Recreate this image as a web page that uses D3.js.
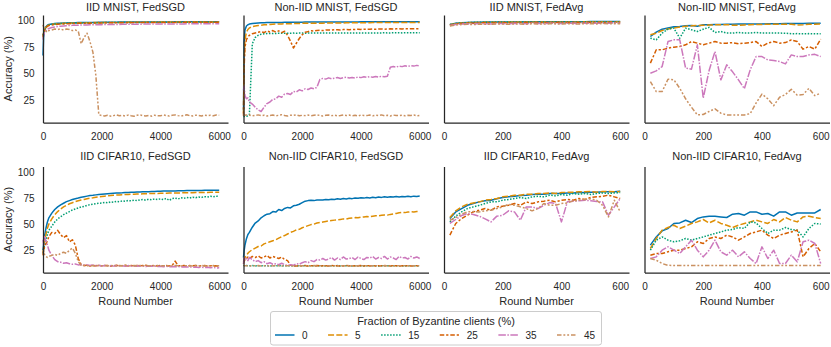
<!DOCTYPE html>
<html>
<head>
<meta charset="utf-8">
<script src="https://cdn.jsdelivr.net/npm/d3@7"></script>
<style>
  body { margin: 0; background: #fff; }
  svg { display: block; font-family: "Liberation Sans", Arial, sans-serif; }
</style>
</head>
<body>
<div id="chart"></div>
<script>
// ---- data ----
var fractions = ["0", "5", "15", "25", "35", "45"];
var colours = ["#0173b2", "#de8f05", "#029e73", "#d55e00", "#cc78bc", "#ca9161"];
var dashes = ["none", "6,2.25", "1.5,1.5", "4.5,1.9,2.25,1.9", "7.5,1.5,1.5,1.5", "4.5,1.9,1.9,1.9,1.9,1.9"];

var sgdTicks = [0, 2000, 4000, 6000];
var avgTicks = [0, 200, 400, 600];
var accTicks = [25, 50, 75, 100];

var sgdRounds = [0, 20, 50, 100, 150, 200, 300, 400, 500, 600,
  700, 800, 900, 1000, 1100, 1200, 1300, 1400, 1500, 1600,
  1700, 1800, 1900, 2000, 2100, 2200, 2300, 2400, 2500, 2600,
  2700, 2800, 2900, 3000, 3100, 3200, 3300, 3400, 3500, 3600,
  3700, 3800, 3900, 4000, 4100, 4200, 4300, 4400, 4500, 4600,
  4700, 4800, 4900, 5000, 5100, 5200, 5300, 5400, 5500, 5600,
  5700, 5800, 5900, 6000];
var avgRounds = [20, 40, 60, 80, 100, 120, 140, 160, 180, 200,
  220, 240, 260, 280, 300, 320, 340, 360, 380, 400,
  420, 440, 460, 480, 500, 520, 540, 560, 580, 600];

// IID MNIST, FedSGD  (one array per Byzantine fraction)
var iidMnistSgd = [
  [67, 84, 90, 94, 95.5, 96.3, 96.8, 97.1, 97.3, 97.5,
   97.6, 97.7, 97.8, 97.8, 97.9, 98.0, 98.0, 98.1, 98.1, 98.2,
   98.2, 98.2, 98.3, 98.3, 98.3, 98.4, 98.4, 98.4, 98.4, 98.5,
   98.5, 98.5, 98.5, 98.5, 98.6, 98.6, 98.6, 98.6, 98.6, 98.6,
   98.7, 98.7, 98.7, 98.7, 98.7, 98.7, 98.7, 98.7, 98.8, 98.8,
   98.8, 98.8, 98.8, 98.8, 98.8, 98.8, 98.8, 98.8, 98.9, 98.9,
   98.9, 98.9, 98.9, 98.9],
  [85, 88, 91, 93.5, 95, 95.8, 96.4, 96.8, 97.0, 97.2,
   97.3, 97.5, 97.5, 97.6, 97.7, 97.7, 97.8, 97.8, 97.9, 97.9,
   98.0, 98.0, 98.0, 98.1, 98.1, 98.1, 98.1, 98.2, 98.2, 98.2,
   98.2, 98.3, 98.3, 98.3, 98.3, 98.3, 98.4, 98.4, 98.4, 98.4,
   98.4, 98.4, 98.5, 98.5, 98.5, 98.5, 98.5, 98.5, 98.5, 98.5,
   98.6, 98.6, 98.6, 98.6, 98.6, 98.6, 98.6, 98.6, 98.6, 98.6,
   98.7, 98.7, 98.7, 98.7],
  [86, 89, 91.5, 93.8, 95, 95.7, 96.2, 96.6, 96.9, 97.1,
   97.2, 97.3, 97.4, 97.5, 97.5, 97.6, 97.7, 97.7, 97.8, 97.8,
   97.8, 97.9, 97.9, 97.9, 98.0, 98.0, 98.0, 98.0, 98.1, 98.1,
   98.1, 98.1, 98.1, 98.2, 98.2, 98.2, 98.2, 98.2, 98.2, 98.3,
   98.3, 98.3, 98.3, 98.3, 98.3, 98.3, 98.4, 98.4, 98.4, 98.4,
   98.4, 98.4, 98.4, 98.4, 98.4, 98.5, 98.5, 98.5, 98.5, 98.5,
   98.5, 98.5, 98.5, 98.5],
  [84, 88, 90.5, 93, 94.5, 95.2, 95.8, 96.2, 96.4, 96.7,
   96.8, 97.0, 97.0, 97.2, 97.2, 97.3, 97.4, 97.4, 97.5, 97.5,
   97.6, 97.6, 97.7, 97.6, 97.7, 97.8, 97.8, 97.8, 97.9, 97.8,
   97.9, 97.9, 98.0, 97.9, 98.0, 98.0, 98.0, 98.1, 98.0, 98.1,
   98.1, 98.1, 98.1, 98.2, 98.1, 98.2, 98.2, 98.2, 98.2, 98.2,
   98.3, 98.2, 98.3, 98.3, 98.3, 98.3, 98.3, 98.3, 98.4, 98.3,
   98.4, 98.4, 98.4, 98.4],
  [82, 86, 88.5, 90.5, 91.8, 92.5, 93.3, 93.9, 94.3, 94.6,
   94.9, 95.1, 95.2, 95.4, 95.5, 95.6, 95.7, 95.8, 95.8, 95.9,
   96.0, 96.0, 96.1, 96.1, 96.2, 96.2, 96.2, 96.3, 96.3, 96.3,
   96.4, 96.4, 96.4, 96.5, 96.5, 96.5, 96.5, 96.6, 96.6, 96.6,
   96.6, 96.7, 96.7, 96.7, 96.7, 96.7, 96.8, 96.8, 96.8, 96.8,
   96.8, 96.8, 96.9, 96.9, 96.9, 96.9, 96.9, 96.9, 97.0, 97.0,
   97.0, 97.0, 97.0, 97.0],
  [96, 94, 92, 90, 89, 90.5, 91, 92, 91.5, 92,
   91, 92, 91.5, 90.5, 91, 90, 78, 84, 88, 80,
   70, 48, 11, 10.2, 9.8, 10.5, 9.6, 10.1, 10.8, 9.9,
   10.3, 9.7, 10.6, 10.0, 9.5, 10.4, 10.9, 10.1, 9.8, 10.3,
   9.6, 10.5, 10.0, 9.9, 10.7, 10.2, 9.7, 10.4, 10.8, 10.1,
   9.6, 10.3, 10.9, 10.0, 9.8, 10.5, 10.2, 9.7, 10.6, 10.1,
   10.4, 9.9, 10.7, 10.5]
];

// Non-IID MNIST, FedSGD
var nonIidMnistSgd = [
  [15, 80, 91, 94.8, 96.0, 96.6, 97.1, 97.4, 97.6, 97.8,
   97.9, 98.0, 98.0, 98.1, 98.1, 98.2, 98.2, 98.3, 98.3, 98.3,
   98.4, 98.4, 98.4, 98.4, 98.5, 98.5, 98.5, 98.5, 98.5, 98.6,
   98.6, 98.6, 98.6, 98.6, 98.6, 98.7, 98.7, 98.7, 98.7, 98.7,
   98.7, 98.7, 98.7, 98.8, 98.8, 98.8, 98.8, 98.8, 98.8, 98.8,
   98.8, 98.8, 98.8, 98.9, 98.9, 98.9, 98.9, 98.9, 98.9, 98.9,
   98.9, 98.9, 98.9, 98.9],
  [12, 60, 82, 89, 91.5, 93, 94.2, 94.8, 95.3, 95.6,
   95.9, 96.1, 96.3, 96.5, 96.6, 96.7, 96.8, 96.9, 97.0, 97.0,
   97.1, 97.2, 97.2, 97.3, 97.3, 97.4, 97.4, 97.4, 97.5, 97.5,
   97.5, 97.6, 97.6, 97.6, 97.7, 97.7, 97.7, 97.7, 97.8, 97.8,
   97.8, 97.8, 97.9, 97.9, 97.9, 97.9, 97.9, 98.0, 98.0, 98.0,
   98.0, 98.0, 98.0, 98.1, 98.1, 98.1, 98.1, 98.1, 98.1, 98.1,
   98.2, 98.2, 98.2, 98.2],
  [9.5, 9.2, 9.4, 9.6, 9.8, 11, 78, 84, 86, 87,
   87.4, 87.6, 87.7, 87.8, 87.8, 87.9, 87.9, 88.0, 88.0, 88.0,
   88.1, 88.0, 88.1, 88.1, 88.0, 88.1, 88.1, 88.1, 88.2, 88.1,
   88.1, 88.2, 88.2, 88.1, 88.2, 88.2, 88.2, 88.2, 88.2, 88.3,
   88.2, 88.2, 88.3, 88.3, 88.2, 88.3, 88.3, 88.3, 88.3, 88.3,
   88.3, 88.4, 88.3, 88.3, 88.4, 88.4, 88.4, 88.3, 88.4, 88.4,
   88.4, 88.4, 88.4, 88.4],
  [10, 55, 75, 82, 84.5, 86, 87.5, 88.2, 88.8, 89.5,
   88.6, 90.1, 89.2, 90.5, 89.0, 90.2, 88.5, 89.8, 86.0, 80.5,
   74.0, 78.5, 83.0, 86.5, 88.8, 89.5, 90.2, 90.0, 90.6, 90.8,
   90.5, 91.0, 91.1, 90.9, 91.2, 91.3, 91.1, 91.4, 91.5, 91.3,
   91.6, 91.5, 91.7, 91.6, 91.8, 91.7, 91.8, 91.9, 91.7, 91.9,
   92.0, 91.8, 92.0, 92.1, 91.9, 92.1, 92.2, 92.0, 92.2, 92.1,
   92.3, 92.2, 92.3, 92.3],
  [34, 38, 29, 26, 27, 23, 21, 18, 15.5, 14,
   18, 21.5, 23, 25.5, 26, 28.5, 27.5, 30.5, 31, 30,
   33, 32.5, 34.5, 33.5, 35.5, 34.8, 36.2, 35.4, 36.8, 44.2,
   45.3, 44.6, 45.8, 44.9, 45.5, 46.1, 45.2, 45.9, 46.4, 45.6,
   46.2, 45.7, 46.6, 46.0, 46.8, 46.3, 46.9, 46.4, 47.1, 46.6,
   47.3, 46.8, 47.4, 55.8, 56.5, 56.0, 56.9, 56.4, 57.2, 56.6,
   57.4, 56.9, 57.6, 57.1],
  [12, 11, 10.5, 10.8, 10.2, 10.6, 9.9, 10.4, 10.8, 10.1,
   10.5, 9.8, 10.3, 10.7, 10.0, 10.4, 10.9, 10.2, 9.7, 10.5,
   10.3, 10.8, 9.9, 10.4, 10.1, 10.6, 10.0, 10.5, 10.9, 10.2,
   9.8, 10.4, 10.7, 10.1, 10.5, 9.9, 10.3, 10.8, 10.2, 10.6,
   10.0, 10.4, 9.8, 10.7, 10.3, 10.1, 10.6, 9.9, 10.5, 10.2,
   10.8, 10.0, 10.4, 9.7, 10.6, 10.3, 10.1, 10.5, 9.9, 10.4,
   10.2, 10.7, 10.0, 10.3]
];

// IID MNIST, FedAvg
var iidMnistAvg = [
  [96.2, 97.3, 97.8, 98.1, 98.3, 98.4, 98.5, 98.5, 98.6, 98.6, 98.7, 98.7, 98.7, 98.8, 98.8,
   98.8, 98.8, 98.8, 98.9, 98.9, 98.9, 98.9, 98.9, 98.9, 99.0, 99.0, 99.0, 99.0, 99.0, 99.0],
  [96.0, 97.1, 97.6, 97.9, 98.1, 98.2, 98.3, 98.3, 98.4, 98.4, 98.5, 98.5, 98.5, 98.6, 98.6,
   98.6, 98.6, 98.7, 98.7, 98.7, 98.7, 98.7, 98.7, 98.8, 98.8, 98.8, 98.8, 98.8, 98.8, 98.8],
  [96.1, 97.2, 97.7, 98.0, 98.2, 98.3, 98.4, 98.4, 98.5, 98.5, 98.6, 98.6, 98.6, 98.7, 98.7,
   98.7, 98.7, 98.7, 98.8, 98.8, 98.8, 98.8, 98.8, 98.8, 98.9, 98.9, 98.9, 98.9, 98.9, 98.9],
  [95.6, 96.8, 97.2, 97.6, 97.5, 97.8, 97.9, 97.7, 98.0, 98.0, 97.9, 98.1, 98.0, 98.1, 98.2,
   98.0, 98.2, 98.1, 98.2, 98.3, 98.1, 98.3, 98.2, 98.3, 98.3, 98.2, 98.4, 98.3, 98.4, 98.3],
  [95.2, 96.3, 96.7, 96.9, 96.6, 97.1, 97.0, 96.8, 97.2, 97.1, 96.9, 97.3, 97.2, 97.0, 97.4,
   97.2, 97.1, 97.4, 97.3, 97.2, 97.5, 97.3, 97.2, 97.5, 97.4, 97.3, 97.5, 97.4, 97.6, 97.5],
  [94.8, 95.8, 96.2, 96.4, 96.1, 96.6, 96.5, 96.3, 96.7, 96.6, 96.4, 96.8, 96.7, 96.5, 96.9,
   96.7, 96.6, 96.9, 96.8, 96.6, 97.0, 96.8, 96.7, 97.0, 96.9, 96.8, 97.1, 96.9, 97.0, 96.9]
];

// Non-IID MNIST, FedAvg
var nonIidMnistAvg = [
  [84.9, 89.0, 91.8, 93.0, 94.0, 94.3, 95.0, 95.3, 94.6, 95.9, 96.0, 96.2, 96.3, 96.4, 96.5,
   96.6, 96.6, 96.7, 96.8, 96.8, 96.9, 97.0, 97.0, 97.1, 97.1, 97.2, 97.2, 97.3, 97.4, 97.5],
  [86.5, 88.0, 90.5, 92.0, 93.0, 93.8, 94.5, 95.0, 95.2, 95.5, 95.7, 95.9, 96.0, 96.1, 95.6,
   95.4, 95.8, 96.1, 96.2, 96.3, 96.4, 96.4, 96.5, 96.5, 96.5, 95.7, 95.9, 96.4, 96.5, 96.6],
  [83.3, 81.7, 88.1, 91.8, 92.8, 83.3, 92.8, 91.2, 89.6, 91.8, 93.5, 88.7, 89.6, 88.1, 88.1,
   88.7, 88.1, 88.1, 88.7, 88.1, 88.1, 88.2, 88.1, 88.0, 87.5, 87.6, 87.5, 87.6, 87.5, 87.5],
  [59.7, 72.3, 72.3, 73.9, 74.8, 75.4, 77.0, 80.1, 78.6, 77.0, 78.6, 80.1, 78.6, 78.6, 79.1,
   78.0, 78.6, 79.1, 80.1, 75.4, 78.6, 80.1, 78.6, 79.1, 81.7, 80.1, 72.9, 75.4, 72.9, 82.3],
  [50.2, 52.4, 56.5, 80.1, 81.7, 81.7, 55.0, 54.0, 77.0, 26.6, 52.7, 70.7, 43.9, 58.1, 51.5,
   43.9, 35.5, 53.4, 65.9, 65.9, 62.8, 62.2, 61.2, 59.0, 67.5, 65.9, 65.9, 67.5, 68.0, 65.9],
  [42.3, 32.8, 32.8, 44.5, 44.0, 36.0, 26.0, 18.0, 10.8, 11.2, 14.0, 16.5, 12.4, 10.8, 10.6,
   10.8, 10.7, 12.0, 22.0, 30.5, 26.0, 19.5, 27.5, 30.0, 35.0, 29.5, 30.0, 35.9, 29.0, 31.3]
];

// IID CIFAR10, FedSGD
var iidCifarSgd = [
  [25, 30, 38, 46, 52, 56, 60.5, 64, 66.5, 68.5,
   70, 71.5, 72.5, 73.5, 74.3, 75, 75.8, 76.3, 76.8, 77.3,
   77.6, 78, 78.3, 78.6, 78.9, 79.1, 79.3, 79.5, 79.7, 79.9,
   80.0, 80.2, 80.3, 80.4, 80.5, 80.7, 80.8, 80.9, 81.0, 81.1,
   81.2, 81.3, 81.4, 81.5, 81.6, 81.6, 81.7, 81.8, 81.8, 81.9,
   82.0, 82.0, 82.1, 82.1, 82.2, 82.2, 82.3, 82.3, 82.4, 82.4,
   82.4, 82.5, 82.5, 82.5],
  [22, 27, 33, 40, 46, 50, 55, 59, 62, 64.5,
   66.5, 68, 69.5, 70.5, 71.5, 72.3, 73, 73.6, 74.2, 74.8,
   75.2, 75.7, 76.1, 76.5, 76.8, 77.1, 77.3, 77.6, 77.8, 78.0,
   78.1, 78.3, 78.4, 78.6, 78.7, 78.8, 78.9, 79.0, 79.1, 79.2,
   79.3, 79.4, 79.4, 79.5, 79.6, 79.6, 79.7, 79.8, 79.8, 79.9,
   79.9, 80.0, 80.0, 80.1, 80.1, 80.2, 80.2, 80.3, 80.3, 80.3,
   80.4, 80.4, 80.4, 80.5],
  [22, 26, 30, 35, 40, 44, 48, 52, 55, 57,
   59, 60.5, 62, 63.5, 64.5, 65.5, 66.5, 67, 68, 68.5,
   69, 69.5, 70, 70.2, 70.8, 70.4, 71.3, 71.0, 71.8, 71.5,
   72.2, 71.9, 72.6, 72.3, 72.9, 72.5, 73.2, 73.5, 72.9, 73.8,
   73.4, 74.1, 73.6, 74.2, 73.5, 74.6, 72.8, 74.4, 74.9, 74.1,
   75.2, 74.7, 75.5, 75.0, 75.8, 75.3, 76.0, 75.6, 76.3, 75.9,
   76.6, 76.2, 76.8, 76.5],
  [20, 24, 28, 31, 34, 38, 42, 41, 44, 40,
   37, 39, 33, 35, 30, 17, 11, 10.2, 10.5, 9.8,
   10.3, 10.0, 10.6, 9.9, 10.2, 10.4, 9.7, 10.1, 10.5, 9.9,
   10.2, 10.6, 9.8, 10.3, 10.0, 10.4, 9.9, 10.2, 10.5, 9.8,
   10.1, 10.3, 9.9, 10.4, 10.0, 10.2, 9.8, 10.3, 14.5, 10.1,
   10.0, 10.3, 9.8, 10.2, 10.0, 10.4, 9.9, 10.1, 10.2, 9.8,
   10.0, 9.9, 10.1, 9.7],
  [35, 30, 38, 34, 30, 25, 20, 16, 14, 13.5,
   12.5, 13, 12, 11.5, 11.8, 10.9, 11.2, 10.6, 10.9, 10.3,
   10.7, 10.1, 10.5, 9.8, 10.4, 10.0, 10.2, 9.7, 10.3, 9.9,
   10.1, 9.6, 10.2, 9.8, 9.5, 10.0, 9.7, 9.9, 9.4, 9.8,
   9.5, 9.7, 9.3, 9.6, 9.2, 9.5, 9.0, 9.4, 9.1, 9.3,
   8.9, 9.2, 8.8, 9.0, 8.6, 8.9, 8.5, 8.7, 8.3, 8.6,
   8.2, 8.4, 7.9, 8.1],
  [22, 25, 21, 19, 18, 19, 20, 21, 20, 22,
   23, 22, 25, 27, 22, 14, 10.5, 10.2, 9.9, 10.4,
   10.1, 9.8, 10.3, 10.0, 10.2, 9.9, 10.4, 10.1, 9.8, 10.2,
   10.0, 10.3, 9.9, 10.1, 10.2, 9.8, 10.3, 10.0, 10.1, 9.9,
   10.2, 10.0, 10.3, 9.9, 10.1, 10.2, 9.8, 10.0, 10.3, 10.1,
   9.9, 10.2, 10.0, 10.1, 9.8, 10.2, 10.0, 10.3, 9.9, 10.1,
   10.0, 10.2, 9.9, 10.1]
];

// Non-IID CIFAR10, FedSGD
var nonIidCifarSgd = [
  [18, 24, 30, 36, 40, 42, 47, 51, 53, 56,
   58, 59.5, 60, 62, 61.5, 64, 63, 65, 66, 65.5,
   67.5, 68, 69, 70.5, 72, 72.5, 72.8, 72.5, 73, 73.2,
   73.0, 73.6, 73.3, 73.9, 73.5, 74.2, 73.8, 74.5, 74.1, 74.8,
   74.4, 75.0, 74.7, 75.3, 74.9, 75.5, 75.1, 75.7, 75.3, 75.9,
   75.6, 76.1, 75.7, 76.2, 75.9, 76.4, 76.0, 76.5, 76.2, 76.7,
   76.3, 76.8, 76.5, 77.0],
  [14, 16, 18, 20, 22, 23.5, 25.5, 27, 28.5, 29,
   31, 32, 33, 34, 35, 36.5, 38, 39, 40.5, 42,
   43, 44.5, 45, 46.5, 47.5, 48.5, 49.5, 50, 51, 51.5,
   52, 52.5, 53, 53.5, 53.8, 54, 54.5, 55, 54.8, 55.5,
   55.9, 56.2, 56.0, 56.6, 56.9, 57.3, 57.0, 57.6, 58.0, 57.8,
   58.4, 58.8, 58.6, 59.3, 59.7, 60.2, 60.8, 61.2, 61.0, 61.5,
   61.8, 61.6, 62.0, 61.9],
  [10.5, 10.2, 10.0, 10.3, 10.1, 10.0, 10.2, 9.9, 10.1, 10.0,
   10.2, 10.0, 9.9, 10.1, 10.0, 10.2, 9.9, 10.1, 10.0, 10.0,
   10.1, 9.9, 10.0, 10.2, 10.0, 9.9, 10.1, 10.0, 10.0, 10.1,
   10.0, 9.9, 10.1, 10.0, 10.0, 10.2, 9.9, 10.0, 10.1, 10.0,
   9.9, 10.0, 10.1, 10.0, 9.9, 10.1, 10.0, 10.0, 10.1, 9.9,
   10.0, 10.1, 10.0, 9.9, 10.0, 10.1, 10.0, 10.0, 9.9, 10.0,
   10.1, 10.0, 10.0, 9.9],
  [12, 14, 16, 17, 18.5, 17, 19, 18, 19.5, 17.5,
   18.5, 20, 17.5, 19, 18, 17, 18.5, 16, 15, 10.5,
   10.2, 9.9, 10.1, 10.0, 10.3, 9.8, 10.1, 10.0, 10.2, 9.9,
   10.0, 10.1, 9.9, 10.2, 10.0, 10.1, 9.9, 10.0, 10.2, 10.0,
   9.9, 10.1, 10.0, 10.2, 9.9, 10.0, 10.1, 10.0, 9.9, 10.1,
   10.0, 10.2, 9.9, 10.0, 10.1, 10.0, 9.9, 10.1, 10.0, 10.2,
   9.9, 10.0, 10.1, 10.0],
  [12, 18, 16, 17, 15, 18, 16, 14, 15, 13,
   14, 12, 13, 11.5, 12, 11, 12.5, 11, 10.5, 11,
   10.5, 12, 11.5, 13, 14, 13, 15, 14, 16, 15.5,
   17, 15.5, 16.5, 18, 15.5, 17.5, 16, 18.5, 16.5, 17,
   18, 16, 18.5, 17, 16, 18, 17.5, 19, 16.5, 18,
   17, 19, 16.5, 18.5, 17.5, 16, 19, 17.5, 18, 16.5,
   19, 17.5, 18.5, 17],
  [10.8, 10.3, 10.1, 10.0, 10.2, 9.9, 10.1, 10.0, 10.2, 9.9,
   10.0, 10.1, 9.9, 10.0, 10.2, 10.0, 9.9, 10.1, 10.0, 10.1,
   9.9, 10.0, 10.1, 10.0, 9.9, 10.1, 10.0, 10.2, 9.9, 10.0,
   10.1, 10.0, 9.9, 10.0, 10.1, 10.0, 10.2, 9.9, 10.0, 10.1,
   10.0, 9.9, 10.1, 10.0, 10.0, 10.1, 9.9, 10.0, 10.1, 10.0,
   9.9, 10.0, 10.1, 10.0, 10.0, 9.9, 10.1, 10.0, 10.0, 10.1,
   9.9, 10.0, 10.1, 10.0]
];

// IID CIFAR10, FedAvg
var iidCifarAvg = [
  [55.3, 61.7, 64.9, 68.0, 69.7, 71.3, 72.3, 72.9, 74.2, 75.5, 76.1, 76.7, 77.4, 77.7, 78.3,
   78.6, 78.6, 79.3, 79.3, 79.3, 79.9, 79.9, 80.2, 80.2, 80.5, 80.5, 80.9, 80.9, 80.9, 81.5],
  [56.3, 62.7, 66.5, 69.0, 70.3, 71.3, 72.9, 73.6, 74.5, 76.1, 76.7, 77.7, 77.7, 78.6, 78.6,
   79.3, 79.3, 79.9, 79.3, 80.2, 80.5, 80.5, 80.9, 80.9, 81.2, 80.5, 81.2, 81.2, 80.9, 81.2],
  [52.1, 57.6, 61.7, 64.9, 66.5, 68.0, 69.7, 71.3, 71.3, 72.9, 73.6, 74.5, 75.5, 74.5, 76.1,
   76.7, 76.1, 77.7, 77.1, 78.3, 77.7, 79.3, 78.6, 79.3, 78.3, 79.3, 79.9, 79.3, 79.9, 80.2],
  [39.4, 50.6, 55.3, 58.5, 61.7, 63.3, 64.9, 63.3, 66.5, 67.2, 68.0, 69.7, 68.0, 71.3, 69.7,
   71.3, 72.0, 72.9, 71.3, 72.9, 73.6, 72.9, 74.5, 73.6, 75.5, 76.1, 76.7, 77.7, 76.1, 74.5],
  [50.6, 54.4, 58.2, 60.1, 59.2, 57.6, 55.0, 52.1, 57.6, 58.5, 62.7, 61.7, 53.7, 66.5, 66.5,
   64.9, 68.0, 70.6, 69.7, 52.1, 71.3, 72.0, 72.3, 72.9, 72.3, 71.6, 71.3, 58.5, 66.5, 74.5],
  [53.7, 56.3, 59.5, 61.7, 62.0, 61.7, 62.7, 63.3, 64.9, 66.5, 69.0, 68.0, 66.5, 64.9, 62.7,
   64.9, 69.7, 68.0, 68.0, 69.7, 70.3, 72.3, 72.9, 73.6, 74.2, 72.9, 68.0, 56.9, 72.9, 61.7]
];

// Non-IID CIFAR10, FedAvg
var nonIidCifarAvg = [
  [29.8, 37.7, 43.5, 45.8, 50.6, 51.1, 53.7, 51.5, 55.3, 56.9, 57.6, 57.6, 56.9, 56.3, 59.5,
   60.1, 58.5, 61.7, 61.7, 59.5, 60.1, 57.6, 61.7, 61.7, 58.5, 60.7, 60.7, 60.7, 60.7, 64.0],
  [26.6, 36.2, 44.2, 46.7, 48.9, 45.8, 48.0, 50.6, 52.1, 54.4, 51.1, 53.7, 50.6, 48.9, 46.7,
   48.9, 50.6, 52.1, 53.7, 52.1, 50.6, 54.4, 52.1, 56.3, 53.7, 52.1, 56.9, 57.6, 56.3, 55.3],
  [25.0, 34.6, 37.7, 34.6, 33.0, 34.0, 36.2, 34.6, 36.2, 37.7, 39.4, 41.0, 42.5, 44.2, 44.8,
   46.7, 45.8, 52.1, 51.1, 45.8, 41.0, 44.2, 44.2, 46.7, 44.8, 44.2, 37.7, 45.8, 50.6, 50.0],
  [20.2, 21.8, 21.8, 23.4, 25.0, 25.0, 26.6, 28.2, 33.0, 31.4, 36.2, 37.7, 36.2, 39.4, 37.7,
   34.6, 37.7, 41.0, 42.5, 44.2, 39.4, 36.2, 39.4, 41.0, 42.5, 44.2, 18.6, 26.6, 31.4, 23.4],
  [17.0, 18.6, 25.0, 28.2, 25.0, 21.8, 28.2, 34.6, 25.0, 18.6, 25.0, 34.6, 23.4, 20.2, 25.0,
   18.6, 23.4, 17.0, 12.2, 28.2, 17.0, 25.0, 12.2, 12.2, 20.2, 13.8, 33.0, 34.6, 31.4, 12.2],
  [17.0, 15.4, 12.2, 10.5, 10.3, 10.4, 10.2, 10.3, 10.2, 10.3, 10.2, 10.4, 10.3, 10.2, 10.3,
   10.2, 10.3, 10.2, 10.4, 10.3, 10.2, 10.3, 10.2, 10.3, 10.2, 10.3, 10.2, 10.3, 10.2, 10.3]
];

var panels = [
  { title: "IID MNIST, FedSGD", rounds: sgdRounds, series: iidMnistSgd, xMax: 6300, ticks: sgdTicks },
  { title: "Non-IID MNIST, FedSGD", rounds: sgdRounds, series: nonIidMnistSgd, xMax: 6300, ticks: sgdTicks },
  { title: "IID MNIST, FedAvg", rounds: avgRounds, series: iidMnistAvg, xMax: 630, ticks: avgTicks },
  { title: "Non-IID MNIST, FedAvg", rounds: avgRounds, series: nonIidMnistAvg, xMax: 630, ticks: avgTicks },
  { title: "IID CIFAR10, FedSGD", rounds: sgdRounds, series: iidCifarSgd, xMax: 6300, ticks: sgdTicks },
  { title: "Non-IID CIFAR10, FedSGD", rounds: sgdRounds, series: nonIidCifarSgd, xMax: 6300, ticks: sgdTicks },
  { title: "IID CIFAR10, FedAvg", rounds: avgRounds, series: iidCifarAvg, xMax: 630, ticks: avgTicks },
  { title: "Non-IID CIFAR10, FedAvg", rounds: avgRounds, series: nonIidCifarAvg, xMax: 630, ticks: avgTicks }
];

// ---- layout ----
var W = 831, H = 347;
var ink = "#262626";
var colLeft = [43, 243.5, 444, 644.5];
var plotW = 185;
var rowTop = [15, 166.5];
var rowBottom = [122.5, 272.5];

var svg = d3.select("#chart").append("svg")
  .attr("width", W)
  .attr("height", H);

panels.forEach(function(p, i) {
  var row = Math.floor(i / 4), col = i % 4;
  var left = colLeft[col], top = rowTop[row], bottom = rowBottom[row];

  var x = d3.scaleLinear().domain([0, p.xMax]).range([left, left + plotW]);
  var y = d3.scaleLinear().domain([3.6, 105.2]).range([bottom, top]);

  var g = svg.append("g");

  // lines, 0% first so the larger fractions sit on top
  p.series.forEach(function(vals, s) {
    var line = d3.line()
      .x(function(d, k) { return x(p.rounds[k]); })
      .y(function(d) { return y(d); });
    g.append("path")
      .datum(vals)
      .attr("d", line)
      .attr("fill", "none")
      .attr("stroke", colours[s])
      .attr("stroke-width", 1.5)
      .attr("stroke-dasharray", dashes[s])
      .attr("stroke-linejoin", "round");
  });

  // x axis
  var xAxis = g.append("g")
    .attr("transform", "translate(0," + bottom + ")")
    .call(d3.axisBottom(x).tickValues(p.ticks).tickFormat(d3.format("d")).tickSize(0).tickPadding(10.5));
  xAxis.select(".domain").attr("stroke", ink).attr("stroke-width", 1.25);
  xAxis.selectAll("text").attr("fill", ink).style("font-size", "10px")
    .style("font-family", '"Liberation Sans", Arial, sans-serif');

  // y axis (labels only on the first column)
  var yAxisGen = d3.axisLeft(y).tickSize(0).tickPadding(8.5).tickFormat(d3.format("d"));
  if (col == 0) yAxisGen.tickValues(accTicks);
  else yAxisGen.tickValues([]);
  var yAxis = g.append("g")
    .attr("transform", "translate(" + left + ",0)")
    .call(yAxisGen);
  yAxis.select(".domain").attr("stroke", ink).attr("stroke-width", 1.25);
  yAxis.selectAll("text").attr("fill", ink).style("font-size", "10px")
    .style("font-family", '"Liberation Sans", Arial, sans-serif');

  // title
  g.append("text")
    .attr("x", left + plotW / 2)
    .attr("y", row == 0 ? 10.6 : 160)
    .attr("text-anchor", "middle")
    .attr("fill", ink)
    .style("font-size", "11px")
    .text(p.title);

  if (col == 0) {
    g.append("text")
      .attr("transform", "translate(11.5," + ((top + bottom) / 2) + ") rotate(-90)")
      .attr("text-anchor", "middle")
      .attr("fill", ink)
      .style("font-size", "11px")
      .text("Accuracy (%)");
  }
  if (row == 1) {
    g.append("text")
      .attr("x", left + plotW / 2)
      .attr("y", 305)
      .attr("text-anchor", "middle")
      .attr("fill", ink)
      .style("font-size", "11px")
      .text("Round Number");
  }
});

// ---- legend ----
var legend = svg.append("g");
legend.append("rect")
  .attr("x", 270.5).attr("y", 311.5)
  .attr("width", 331).attr("height", 33.5)
  .attr("rx", 2.5)
  .attr("fill", "#fff")
  .attr("fill-opacity", 0.8)
  .attr("stroke", "#cccccc")
  .attr("stroke-width", 1);

legend.append("text")
  .attr("x", 436)
  .attr("y", 325)
  .attr("text-anchor", "middle")
  .attr("fill", ink)
  .style("font-size", "11px")
  .text("Fraction of Byzantine clients (%)");

var cx = 275;
fractions.forEach(function(f, s) {
  legend.append("line")
    .attr("x1", cx).attr("x2", cx + 19.5)
    .attr("y1", 335).attr("y2", 335)
    .attr("stroke", colours[s])
    .attr("stroke-width", 1.5)
    .attr("stroke-dasharray", dashes[s]);
  var t = legend.append("text")
    .attr("x", cx + 27)
    .attr("y", 338.6)
    .attr("fill", ink)
    .style("font-size", "10px")
    .text(f);
  cx += 27 + t.node().getComputedTextLength() + 20.5;
});
</script>
</body>
</html>
